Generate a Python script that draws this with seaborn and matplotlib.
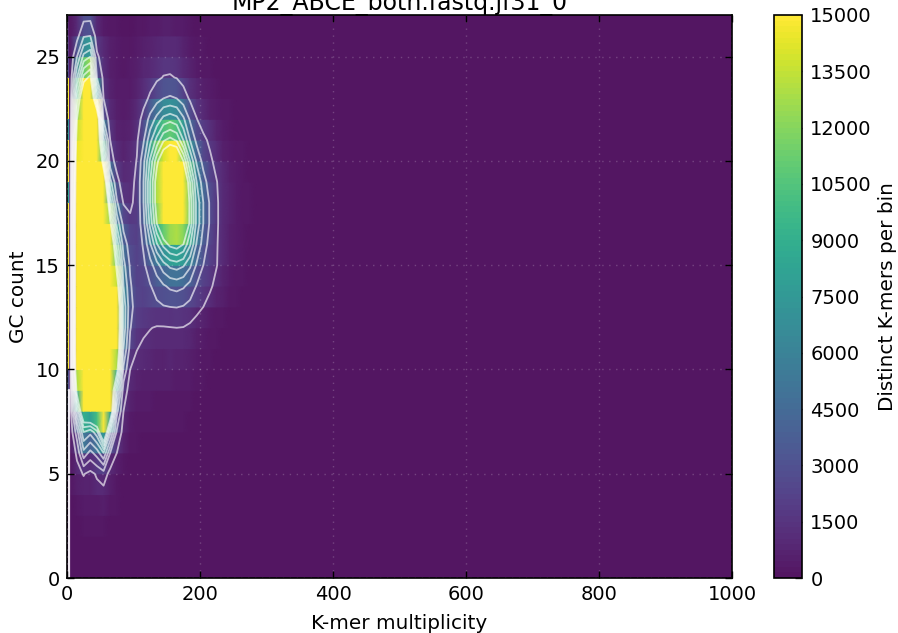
import numpy as np
import pandas as pd
import matplotlib
matplotlib.use("Agg")
import matplotlib.pyplot as plt
from matplotlib.colors import LinearSegmentedColormap
import seaborn as sns

# distinct k-mers per cell. one list per GC count,
# each entry is a 10 wide multiplicity bin starting at 0. short lists run out into background
background = 30
gc_00 = [30, 40, 40, 40, 30]
gc_01 = [50, 80, 90, 80, 80, 80, 60, 40]
gc_02 = [80, 120, 180, 150, 150, 170, 120, 80, 50]
gc_03 = [100, 250, 400, 350, 400, 450, 280, 150, 90, 60, 50, 40, 40, 40, 40, 40, 40]
gc_04 = [150, 500, 700, 700, 900, 900, 500, 250, 130, 90, 70, 60, 60, 50, 50, 50, 50, 50, 40]
gc_05 = [200, 1000, 1600, 1100, 1700, 2300, 1000, 500, 250, 130, 100, 80, 70, 70, 70, 70, 70, 60, 50, 40]
gc_06 = [300, 1800, 5500, 4000, 5200, 7500, 3000, 1500, 600, 250, 170, 140, 120, 110, 110, 110, 110, 100, 80, 60, 50, 40]
gc_07 = [500, 3800, 9000, 8000, 10000, 16000, 8000, 2700, 1000, 400, 260, 220, 190, 170, 170, 180, 170, 150, 120, 90, 70, 50, 40]
gc_08 = [700, 8500, 15500, 17000, 18000, 17000, 15000, 5000, 1500, 600, 400, 340, 300, 280, 270, 280, 270, 240, 190, 140, 100, 70, 50, 40]
gc_09 = [900, 13000, 19000, 22000, 23000, 20000, 15500, 8500, 2200, 950, 650, 560, 500, 450, 450, 450, 430, 380, 300, 220, 160, 110, 80, 50, 40]
gc_10 = [1000, 15500, 22000, 26000, 27000, 23000, 17000, 13000, 4200, 1500, 1050, 900, 800, 720, 720, 750, 720, 640, 520, 380, 270, 190, 130, 90, 60, 40]
gc_11 = [1000, 16000, 24000, 29000, 30000, 26000, 19000, 15000, 6000, 2500, 1550, 1250, 1050, 950, 950, 1000, 1000, 900, 750, 550, 400, 270, 180, 120, 80, 50, 40]
gc_12 = [1000, 16000, 25000, 30000, 31000, 28000, 21000, 15500, 7000, 3100, 2000, 1750, 1550, 1400, 1400, 1450, 1500, 1450, 1200, 850, 600, 400, 270, 170, 110, 70, 50, 40]
gc_13 = [1000, 16000, 26000, 31000, 32000, 29000, 21000, 15500, 7000, 3500, 2300, 2200, 2400, 2700, 2900, 3000, 3050, 2900, 2500, 1950, 1500, 1050, 700, 450, 280, 180, 110, 70, 50, 40]
gc_14 = [1000, 16000, 26000, 31000, 32000, 29000, 21000, 13500, 6000, 3200, 2100, 2300, 2900, 3600, 4300, 4800, 5000, 4700, 4000, 2900, 2100, 1700, 1150, 650, 400, 250, 160, 100, 70, 50]
gc_15 = [1000, 16000, 26000, 31000, 31000, 28000, 19000, 11000, 5000, 2800, 2100, 2700, 3900, 5400, 6900, 7900, 8200, 7700, 6300, 4300, 3000, 2100, 1550, 900, 550, 340, 210, 130, 90, 60]
gc_16 = [1000, 16000, 26000, 31000, 30000, 26000, 16000, 8500, 3800, 2300, 2000, 3200, 5800, 8800, 11000, 12500, 13000, 12000, 9200, 5800, 3800, 2400, 1600, 900, 550, 340, 210, 130, 90, 60]
gc_17 = [1000, 16000, 26000, 30000, 29000, 23000, 12500, 5500, 2500, 1700, 1900, 4000, 8000, 12000, 15000, 17000, 17500, 16000, 11500, 7000, 4500, 2800, 1650, 1000, 620, 380, 240, 150, 100, 70]
gc_18 = [1000, 15500, 25000, 29000, 27000, 20000, 8500, 3200, 1400, 1300, 1800, 4500, 9000, 13000, 16500, 18500, 18500, 16500, 11500, 7000, 4500, 2800, 1650, 1000, 620, 380, 240, 150, 100, 70]
gc_19 = [1000, 15000, 23000, 27000, 24000, 15500, 5000, 1800, 1000, 1050, 1800, 4500, 9000, 13000, 16200, 18000, 18000, 15500, 10500, 6000, 3600, 2300, 1550, 900, 560, 350, 220, 140, 90, 60]
gc_20 = [900, 14500, 21000, 24000, 19000, 10000, 2000, 1100, 600, 950, 1550, 4000, 7800, 11500, 14000, 15500, 15500, 12000, 7500, 4200, 2500, 1750, 1100, 580, 360, 230, 150, 100, 70, 50]
gc_21 = [800, 13500, 19000, 21000, 16000, 6500, 1500, 650, 450, 650, 1300, 2800, 5500, 8000, 10300, 11000, 10300, 7500, 4500, 2600, 1800, 1250, 700, 320, 210, 140, 90, 60, 50, 40]
gc_22 = [700, 12000, 17000, 18000, 15500, 2800, 900, 520, 380, 480, 1000, 1900, 3500, 5000, 6500, 7000, 6500, 4800, 2800, 1550, 900, 550, 350, 220, 150, 100, 70, 50]
gc_23 = [600, 9500, 15500, 16000, 8000, 1500, 700, 420, 320, 380, 700, 1100, 1700, 2400, 3000, 3200, 3000, 2200, 1300, 800, 500, 300, 200, 130, 90, 70, 50]
gc_24 = [500, 6000, 11000, 12500, 3000, 1200, 550, 350, 280, 300, 500, 750, 1000, 1300, 1550, 1600, 1450, 1000, 650, 400, 250, 170, 120, 80, 60, 50, 40]
gc_25 = [400, 3000, 6500, 7500, 1700, 1000, 450, 300, 220, 220, 300, 450, 650, 850, 1000, 1000, 900, 650, 420, 260, 160, 100, 80, 60, 50]
gc_26 = [200, 1000, 2800, 3000, 900, 400, 200, 150, 120, 130, 170, 230, 300, 400, 500, 500, 430, 320, 220, 140, 100, 80, 60, 50]
gc_27 = [100, 500, 900, 900, 500, 200, 100, 80, 60, 50, 50, 60, 70, 80, 90, 90, 80, 70, 60, 50, 40]

# very faint haze between multiplicity 300 and 600, one value per GC count
haze_300_600 = [30, 30, 30, 30, 30, 30, 30, 30, 30, 50, 50, 60, 80, 90, 90, 90, 90, 80, 80, 70, 50, 40, 30, 30, 30, 30, 30, 30]
# the multiplicity 0 column that shows as a thin strip against the left spine
zero_column = [200, 200, 200, 200, 200, 300, 300, 2000, 3000, 3000, 15000, 15000, 15000, 15000,
               15000, 15000, 15000, 15000, 8000, 15000, 15000, 7000, 15000, 15000, 2500, 1500, 800, 200]

x_ticks = [0, 200, 400, 600, 800, 1000]
y_ticks = [0, 5, 10, 15, 20, 25]
cbar_ticks = [0, 1500, 3000, 4500, 6000, 7500, 9000, 10500, 12000, 13500, 15000]
contour_levels = [1500, 3000, 4500, 6000, 7500, 9000, 10500, 12000]

rows = [gc_00, gc_01, gc_02, gc_03, gc_04, gc_05, gc_06, gc_07, gc_08, gc_09,
        gc_10, gc_11, gc_12, gc_13, gc_14, gc_15, gc_16, gc_17, gc_18, gc_19,
        gc_20, gc_21, gc_22, gc_23, gc_24, gc_25, gc_26, gc_27]
n_bins = 100
matrix = []
for r, h in zip(rows, haze_300_600):
    full = r + [background] * (30 - len(r)) + [h] * 30 + [background] * 40
    matrix.append(full)
matrix = np.array(matrix, dtype=float)
df = pd.DataFrame(matrix, index=range(len(rows)), columns=range(0, 1000, 10))

# original image is viridis drawn slightly see through on white
vir = sns.color_palette("viridis", as_cmap=True)
stops = [tuple(0.92 * np.array(vir(i)[:3]) + 0.08) for i in range(256)]
cmap = LinearSegmentedColormap.from_list("kat", stops, N=100)

sns.set_style("white")
plt.rcParams["font.family"] = "DejaVu Sans"
plt.rcParams["text.color"] = "black"
plt.rcParams["axes.labelcolor"] = "black"
plt.rcParams["xtick.color"] = "black"
plt.rcParams["ytick.color"] = "black"

W, H = 898, 633
fig = plt.figure(figsize=(W / 100, H / 100), dpi=100)
ax = fig.add_axes([67 / W, 1 - 578 / H, 665 / W, 563 / H])
cax = fig.add_axes([774 / W, 1 - 578 / H, 28 / W, 563 / H])

sns.heatmap(df, ax=ax, cbar_ax=cax, cmap=cmap, vmin=0, vmax=15000,
            xticklabels=False, yticklabels=False,
            cbar_kws={"ticks": cbar_ticks})

# smooth along x only, rows stay as flat bands like the original
centres = np.arange(n_bins) + 0.5
row_edges = np.repeat(np.arange(len(rows) + 1), 2)[1:-1]
ax.pcolormesh(centres, row_edges, np.repeat(matrix, 2, axis=0), shading="gouraud",
              cmap=cmap, vmin=0, vmax=15000)
ax.pcolormesh([0, 0.35], np.arange(len(rows) + 1), np.array(zero_column, dtype=float).reshape(-1, 1),
              cmap=cmap, vmin=0, vmax=15000)

# contours sit on the lower edge of each row, same as the original
ax.contour(centres, np.arange(len(rows)), matrix, levels=contour_levels,
           colors="white", alpha=0.65, linewidths=1.3)
ax.axvline(0.25, ymin=0, ymax=9 / 27, color="white", linewidth=1.6, alpha=0.9)

ax.set_xlim(0, n_bins)
ax.set_ylim(0, 27)
ax.set_xticks([t / 10 for t in x_ticks])
ax.set_xticklabels(x_ticks)
ax.set_yticks(y_ticks)
ax.set_yticklabels(y_ticks, rotation=0)
ax.tick_params(direction="in", top=True, right=True, left=True, bottom=True,
               length=5, width=1, labelsize=14, color="black", pad=5)
ax.grid(True, color="white", alpha=0.2, linestyle=(0, (1, 4)), linewidth=1)
ax.set_axisbelow(False)
ax.set_xlabel("K-mer multiplicity", fontsize=14.4, labelpad=7)
ax.set_ylabel("GC count", fontsize=14.4, labelpad=5)
for s in ax.spines.values():
    s.set_visible(True)
    s.set_color("black")
    s.set_linewidth(1.2)

cb = ax.collections[0].colorbar
cb.outline.set_visible(True)
cb.outline.set_linewidth(1.2)
cb.outline.set_edgecolor("black")
cb.ax.tick_params(direction="in", length=5, width=1, labelsize=14, color="#333333", pad=6)
cb.set_label("Distinct K-mers per bin", fontsize=14.4, labelpad=4)

# title runs off the top edge in the original
fig.text(400 / W, 1 - 10 / H, "MP2_ABCE_both.fastq.jf31_0", ha="center", va="baseline", fontsize=17)

fig.savefig("out.png", dpi=100)
